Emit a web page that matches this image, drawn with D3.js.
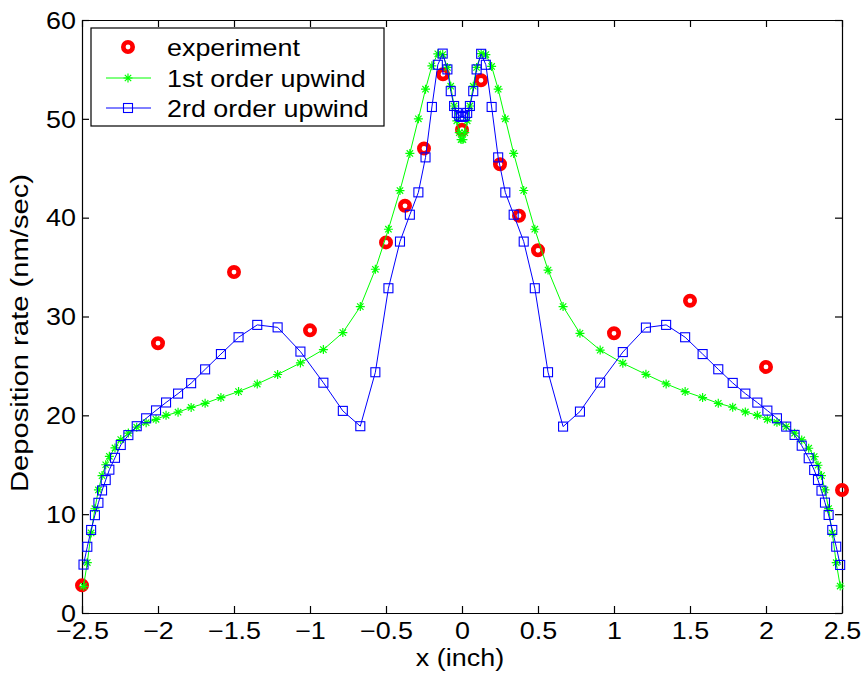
<!DOCTYPE html>
<html lang="en">
<head>
  <meta charset="UTF-8" />
  <title>Deposition rate</title>
  <script src="https://d3js.org/d3.v7.min.js"></script>
  <style>
    body {
      margin: 0;
      background-color: #fff;
    }
    svg {
      display: block;
      font-family: 'Liberation Sans', Arial, Helvetica, sans-serif;
    }
  </style>
</head>
<body>
  <svg width="863" height="679"></svg>
  <script>
    // experiment
    const expX = [-2.5, -2, -1.5, -1, -0.5, -0.375, -0.25, -0.125, 0, 0.125, 0.25, 0.375, 0.5, 1, 1.5, 2, 2.5];
    const expY = [2.8, 27.3, 34.5, 28.6, 37.5, 41.2, 47.0, 54.5, 48.9, 53.9, 45.4, 40.2, 36.7, 28.3, 31.6, 24.9, 12.45];

    // grid shared by both simulations
    const gridX = [
      -2.49, -2.465, -2.44, -2.415, -2.392, -2.368, -2.344, -2.32, -2.283, -2.245, -2.195, -2.14, -2.078, -2.013,
      -1.947, -1.868, -1.782, -1.69, -1.586, -1.47, -1.347, -1.213, -1.063, -0.912, -0.784, -0.669, -0.57, -0.484,
      -0.408, -0.343, -0.287, -0.24, -0.198, -0.159, -0.127, -0.096, -0.074, -0.052, -0.034, -0.018, -0.006,
      0.006, 0.018, 0.034, 0.052, 0.074, 0.096, 0.126, 0.157, 0.195, 0.238, 0.285, 0.34, 0.406, 0.479,
      0.566, 0.665, 0.776, 0.909, 1.058, 1.21, 1.343, 1.468, 1.583, 1.686, 1.781, 1.864, 1.943, 2.009,
      2.072, 2.133, 2.188, 2.235, 2.281, 2.317, 2.342, 2.365, 2.388, 2.412, 2.436, 2.462, 2.488
    ];
    const firstOrder = [
      2.7, 5.1, 8.1, 10.55, 12.45, 13.9, 15.0, 15.85, 16.7, 17.55, 18.2, 18.8, 19.25, 19.6,
      20.0, 20.32, 20.8, 21.22, 21.8, 22.4, 23.17, 24.13, 25.3, 26.65, 28.37, 31.0, 34.78, 38.83,
      42.74, 46.5, 50.0, 53.0, 55.36, 56.58, 56.5, 55.2, 53.3, 51.3, 49.8, 48.6, 47.9,
      47.9, 48.6, 49.8, 51.3, 53.3, 55.2, 56.6, 56.5, 55.3, 53.0, 50.0, 46.5, 42.75, 38.83,
      34.7, 31.0, 28.3, 26.6, 25.27, 24.15, 23.18, 22.4, 21.8, 21.22, 20.82, 20.34, 20.0, 19.6,
      19.3, 18.86, 18.19, 17.51, 16.67, 15.82, 14.95, 13.9, 12.45, 10.56, 8.07, 5.09, 2.73
    ];
    const secondOrder = [
      4.9, 6.7, 8.4, 9.9, 11.15, 12.4, 13.45, 14.5, 15.7, 17.0, 18.0, 18.9, 19.7, 20.5,
      21.3, 22.2, 23.25, 24.65, 26.2, 27.9, 29.15, 28.9, 26.45, 23.3, 20.45, 18.9, 24.36, 32.86,
      37.58, 40.3, 42.56, 46.1, 51.2, 55.47, 56.6, 55.0, 52.8, 51.3, 50.6, 50.3, 50.2,
      50.2, 50.3, 50.6, 51.3, 52.8, 55.0, 56.58, 55.47, 51.2, 46.1, 42.55, 40.3, 37.58, 32.86,
      24.36, 18.86, 20.38, 23.31, 26.4, 28.88, 29.15, 27.9, 26.2, 24.66, 23.28, 22.2, 21.29, 20.48,
      19.7, 18.86, 18.02, 16.93, 15.66, 14.47, 13.46, 12.38, 11.17, 9.92, 8.4, 6.71, 4.86
    ];

    const xTicks = [-2.5, -2, -1.5, -1, -0.5, 0, 0.5, 1, 1.5, 2, 2.5];
    const yTicks = [0, 10, 20, 30, 40, 50, 60];
    const legendLabels = ["experiment", "1st order upwind", "2rd order upwind"];

    const margin = { top: 20, right: 21, bottom: 66, left: 82 },
          width = 863 - margin.left - margin.right,
          height = 679 - margin.top - margin.bottom;

    const svg = d3.select("svg")
      .append("g")
      .attr("transform", `translate(${margin.left},${margin.top})`);

    const x = d3.scaleLinear().domain([-2.5, 2.5]).range([0, width]);
    const y = d3.scaleLinear().domain([0, 60]).range([height, 0]);

    const fmt = d => (d < 0 ? "\u2212" : "") + Math.abs(d);

    // the original text is drawn wider than Arial, so stretch it a bit
    function widen(sel, k) {
      sel.each(function() {
        const w = this.getComputedTextLength();
        d3.select(this).attr("textLength", w * k).attr("lengthAdjust", "spacingAndGlyphs");
      });
    }

    const tick = 7;

    const gx = svg.append("g")
      .attr("transform", `translate(0,${height})`)
      .call(d3.axisBottom(x).tickValues(xTicks).tickFormat(fmt).tickSizeInner(-tick).tickSizeOuter(0));
    svg.append("g")
      .call(d3.axisTop(x).tickValues(xTicks).tickFormat("").tickSizeInner(-tick).tickSizeOuter(0));
    const gy = svg.append("g")
      .call(d3.axisLeft(y).tickValues(yTicks).tickFormat(fmt).tickSizeInner(-tick).tickSizeOuter(0));
    svg.append("g")
      .attr("transform", `translate(${width},0)`)
      .call(d3.axisRight(y).tickValues(yTicks).tickFormat("").tickSizeInner(-tick).tickSizeOuter(0));

    svg.selectAll(".domain, .tick line").attr("stroke", "#000").attr("stroke-width", 1.2);

    gx.selectAll("text")
      .attr("y", 26).attr("dy", 0)
      .attr("font-size", 23).attr("fill", "#000")
      .call(widen, 1.17);
    gy.selectAll("text")
      .attr("x", -6).attr("dy", "0.36em")
      .attr("font-size", 23).attr("fill", "#000")
      .call(widen, 1.17);

    svg.append("text")
      .attr("x", width / 2 - 2)
      .attr("y", height + 53)
      .attr("text-anchor", "middle")
      .attr("font-size", 23)
      .text("x (inch)")
      .call(widen, 1.17);

    svg.append("text")
      .attr("transform", `translate(${28 - margin.left},${333 - margin.top}) rotate(-90)`)
      .attr("text-anchor", "middle")
      .attr("font-size", 23)
      .text("Deposition rate (nm/sec)")
      .call(widen, 1.27);

    const green = "#00ff00", blue = "#0000ff", red = "#ff0000";

    const line = d3.line().x(d => x(d[0])).y(d => y(d[1]));
    const first = gridX.map((v, i) => [v, firstOrder[i]]);
    const second = gridX.map((v, i) => [v, secondOrder[i]]);
    const expt = expX.map((v, i) => [v, expY[i]]);

    const star = "M-4.5,0H4.5M0,-4.5V4.5M-3.2,-3.2L3.2,3.2M-3.2,3.2L3.2,-3.2";

    function drawFirst(g, data) {
      g.append("path")
        .attr("d", line(data))
        .attr("fill", "none").attr("stroke", green).attr("stroke-width", 1);
      g.selectAll("path.star")
        .data(data)
        .enter()
        .append("path")
        .attr("class", "star")
        .attr("transform", d => `translate(${x(d[0])},${y(d[1])})`)
        .attr("d", star)
        .attr("stroke", green).attr("stroke-width", 1.2);
    }

    function drawSecond(g, data) {
      g.append("path")
        .attr("d", line(data))
        .attr("fill", "none").attr("stroke", blue).attr("stroke-width", 1);
      g.selectAll("rect")
        .data(data)
        .enter()
        .append("rect")
        .attr("x", d => x(d[0]) - 4.5)
        .attr("y", d => y(d[1]) - 4.5)
        .attr("width", 9).attr("height", 9)
        .attr("fill", "none").attr("stroke", blue).attr("stroke-width", 1.1);
    }

    function drawExp(g, data) {
      g.selectAll("circle")
        .data(data)
        .enter()
        .append("circle")
        .attr("cx", d => x(d[0]))
        .attr("cy", d => y(d[1]))
        .attr("r", 4.7)
        .attr("fill", "none").attr("stroke", red).attr("stroke-width", 4.6);
    }

    drawExp(svg.append("g"), expt);
    drawFirst(svg.append("g"), first);
    drawSecond(svg.append("g"), second);

    // legend
    const lg = svg.append("g").attr("transform", `translate(${91 - margin.left},${28 - margin.top})`);
    lg.append("rect")
      .attr("width", 293).attr("height", 98)
      .attr("fill", "#fff").attr("stroke", "#000").attr("stroke-width", 1.2);

    const rowY = [19, 50, 80];
    legendLabels.forEach((label, i) => {
      const row = lg.append("g").attr("transform", `translate(0,${rowY[i]})`);
      if (i === 0) {
        row.append("circle").attr("cx", 37).attr("cy", 0).attr("r", 4.7)
          .attr("fill", "none").attr("stroke", red).attr("stroke-width", 4.6);
      } else {
        row.append("line")
          .attr("x1", 15).attr("x2", 60)
          .attr("stroke", i === 1 ? green : blue).attr("stroke-width", 1);
        if (i === 1) {
          row.append("path").attr("transform", "translate(37,0)").attr("d", star)
            .attr("stroke", green).attr("stroke-width", 1.2);
        } else {
          row.append("rect").attr("x", 32.5).attr("y", -4.5).attr("width", 9).attr("height", 9)
            .attr("fill", "none").attr("stroke", blue).attr("stroke-width", 1.1);
        }
      }
      row.append("text")
        .attr("x", 76)
        .attr("dy", "0.36em")
        .attr("font-size", 24)
        .text(label)
        .call(widen, 1.12);
    });
  </script>
</body>
</html>
